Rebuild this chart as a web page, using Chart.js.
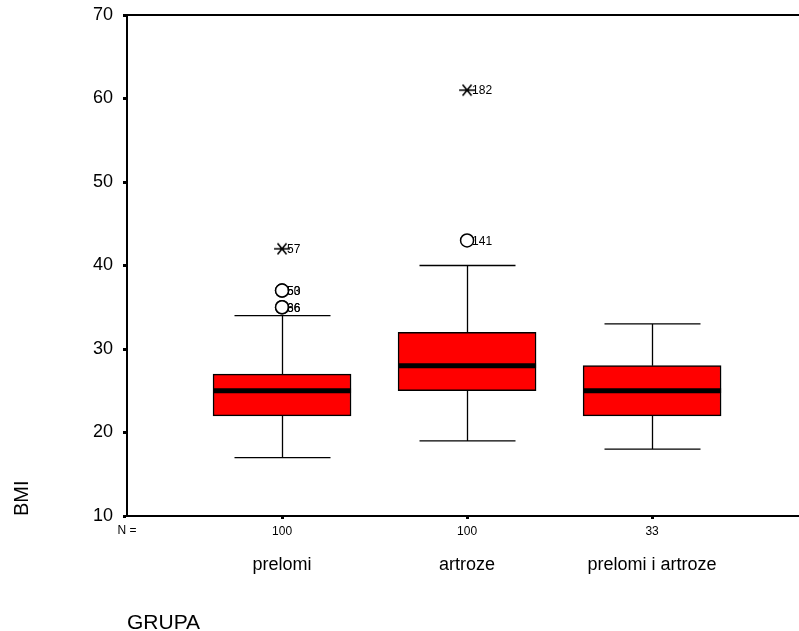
<!DOCTYPE html>
<html>
<head>
<meta charset="utf-8">
<script src="https://cdn.jsdelivr.net/npm/chart.js@4/dist/chart.umd.min.js"></script>
<style>
  html, body { margin: 0; padding: 0; background: #fff; }
  #wrap { width: 799px; height: 631px; }
</style>
</head>
<body>
<div id="wrap"><canvas id="bmiChart"></canvas></div>
<script>
// BMI by group
const groups = ['prelomi', 'artroze', 'prelomi i artroze'];
const counts = [100, 100, 33];
const whiskerLow = [17, 19, 18];
const q1 = [22, 25, 22];
const medians = [25, 28, 25];
const q3 = [27, 32, 28];
const whiskerHigh = [34, 40, 33];

// outliers: group index (1-based), value, case number, extreme or not
const outlierGroup = [1, 1, 1, 1, 1, 2, 2];
const outlierValue = [42, 37, 37, 35, 35, 43, 61];
const outlierCase = ['57', '50', '53', '66', '86', '141', '182'];
const outlierExtreme = [true, false, false, false, false, false, true];

const yTicks = [10, 20, 30, 40, 50, 60, 70];

const FONT = "'Liberation Sans', Arial, sans-serif";
Chart.defaults.font.family = FONT;
Chart.defaults.color = '#000';

const BOX_W = 138;
const CAP_W = 96;
const X_MIN = 0.162;
const X_MAX = 3.794;

// asterisk marker for extreme values
function makeStar() {
    const c = document.createElement('canvas');
    c.width = 18; c.height = 14;
    const g = c.getContext('2d');
    g.strokeStyle = '#000';
    g.lineWidth = 1.6;
    g.beginPath();
    g.moveTo(1, 7); g.lineTo(17, 7);
    g.moveTo(4.5, 1.5); g.lineTo(13.5, 12.5);
    g.moveTo(4.5, 12.5); g.lineTo(13.5, 1.5);
    g.stroke();
    return c;
}

const boxData = groups.map((g, i) => ({ x: i + 1, y: [q1[i], q3[i]] }));
const circlePts = [];
const starPts = [];
outlierValue.forEach((v, i) => {
    const p = { x: outlierGroup[i], y: v };
    (outlierExtreme[i] ? starPts : circlePts).push(p);
});

const groupTicks = s => { s.ticks = groups.map((g, i) => ({ value: i + 1 })); };

const boxPlotExtras = {
    id: 'boxPlotExtras',
    beforeDatasetsDraw(chart) {
        const { ctx, scales: { x, y } } = chart;
        ctx.save();
        ctx.strokeStyle = '#000';
        ctx.lineWidth = 1.3;
        groups.forEach((g, i) => {
            const px = Math.round(x.getPixelForValue(i + 1)) + 0.5;
            const lo = y.getPixelForValue(whiskerLow[i]);
            const hi = y.getPixelForValue(whiskerHigh[i]);
            ctx.beginPath();
            ctx.moveTo(px, y.getPixelForValue(q1[i])); ctx.lineTo(px, lo);
            ctx.moveTo(px, y.getPixelForValue(q3[i])); ctx.lineTo(px, hi);
            ctx.moveTo(px - CAP_W / 2, lo); ctx.lineTo(px + CAP_W / 2, lo);
            ctx.moveTo(px - CAP_W / 2, hi); ctx.lineTo(px + CAP_W / 2, hi);
            ctx.stroke();
        });
        ctx.restore();
    },
    afterDatasetsDraw(chart) {
        const { ctx, chartArea, scales: { x, y } } = chart;
        ctx.save();
        // medians
        ctx.strokeStyle = '#000';
        ctx.lineWidth = 5;
        groups.forEach((g, i) => {
            const px = x.getPixelForValue(i + 1);
            const py = y.getPixelForValue(medians[i]);
            ctx.beginPath();
            ctx.moveTo(px - BOX_W / 2, py); ctx.lineTo(px + BOX_W / 2, py);
            ctx.stroke();
        });
        // case labels beside outliers
        ctx.fillStyle = '#000';
        ctx.font = '12px ' + FONT;
        ctx.textAlign = 'left';
        ctx.textBaseline = 'middle';
        outlierValue.forEach((v, i) => {
            ctx.fillText(outlierCase[i], x.getPixelForValue(outlierGroup[i]) + 5, y.getPixelForValue(v) + 1);
        });
        // top frame line
        ctx.strokeStyle = '#000';
        ctx.lineWidth = 2;
        ctx.beginPath();
        ctx.moveTo(chartArea.left, chartArea.top);
        ctx.lineTo(chartArea.right, chartArea.top);
        ctx.stroke();
        // "N =" in front of the counts
        ctx.textAlign = 'center';
        ctx.fillText('N =', chartArea.left, chartArea.bottom + 15);
        ctx.restore();
    }
};

new Chart(document.getElementById('bmiChart'), {
    type: 'bar',
    data: {
        datasets: [
            {
                type: 'scatter',
                data: starPts,
                pointStyle: makeStar(),
                pointRadius: 7,
                order: 0
            },
            {
                type: 'scatter',
                data: circlePts,
                pointStyle: 'circle',
                pointRadius: 6.5,
                borderColor: '#000',
                borderWidth: 1.5,
                backgroundColor: '#fff',
                order: 0
            },
            {
                data: boxData,
                backgroundColor: '#ff0000',
                borderColor: '#000',
                borderWidth: 1.5,
                borderSkipped: false,
                barThickness: BOX_W,
                grouped: false,
                order: 1
            }
        ]
    },
    options: {
        responsive: true,
        maintainAspectRatio: false,
        animation: false,
        layout: { autoPadding: false, padding: { top: 15, right: 0, left: 0, bottom: 0 } },
        plugins: {
            legend: { display: false },
            tooltip: { enabled: false }
        },
        scales: {
            x: {
                type: 'linear',
                position: 'bottom',
                min: X_MIN,
                max: X_MAX,
                offset: false,
                border: { color: '#000', width: 2 },
                grid: { offset: false, drawOnChartArea: false, color: '#000', tickLength: 3, tickWidth: 3 },
                afterBuildTicks: groupTicks,
                afterFit: s => { s.height = 24; s.paddingLeft = 0; s.paddingRight = 0; },
                ticks: {
                    callback: v => counts[v - 1],
                    font: { size: 12 },
                    padding: 5,
                    maxRotation: 0,
                    autoSkip: false
                }
            },
            x2: {
                type: 'linear',
                position: 'bottom',
                min: X_MIN,
                max: X_MAX,
                offset: false,
                border: { display: false },
                grid: { display: false, offset: false },
                afterBuildTicks: groupTicks,
                afterFit: s => { s.height = 91; s.paddingLeft = 0; s.paddingRight = 0; },
                ticks: {
                    callback: v => groups[v - 1],
                    font: { size: 18 },
                    padding: 6,
                    maxRotation: 0,
                    autoSkip: false
                },
                title: {
                    display: true,
                    text: 'GRUPA',
                    align: 'start',
                    font: { size: 21, lineHeight: 0.72 },
                    padding: { top: 0, bottom: 0 }
                }
            },
            y: {
                min: 10,
                max: 70,
                border: { color: '#000', width: 2 },
                grid: { drawOnChartArea: false, color: '#000', tickLength: 4, tickWidth: 3 },
                afterBuildTicks: s => { s.ticks = yTicks.map(v => ({ value: v })); },
                afterFit: s => { s.width = 127; s.paddingTop = 0; s.paddingBottom = 0; },
                ticks: { font: { size: 18 }, padding: 10 },
                title: {
                    display: true,
                    text: 'BMI',
                    align: 'start',
                    font: { size: 20 },
                    padding: { top: 10, bottom: 0 }
                }
            }
        }
    },
    plugins: [boxPlotExtras]
});
</script>
</body>
</html>
